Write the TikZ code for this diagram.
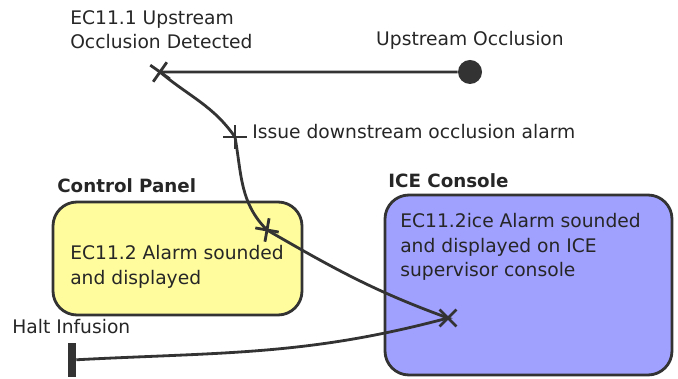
\documentclass[tikz,border=0pt]{standalone}
\usepackage{fontspec}
\setmainfont{DejaVu Sans}
\usetikzlibrary{shapes.misc}

\definecolor{panelyellow}{RGB}{255,252,158}
\definecolor{iceblue}{RGB}{160,160,255}
\definecolor{ucmgray}{RGB}{51,51,51}

\begin{document}
\begin{tikzpicture}[
  ucmpath/.style={draw=ucmgray, line width=2pt},
  resp/.style={cross out, draw=ucmgray, line width=2pt, minimum size=0.35cm, inner sep=0pt},
  comp/.style={draw=ucmgray, line width=2pt, rounded corners=0.6cm},
  lbl/.style={font=\fontsize{13.3}{17.5}\selectfont, text=black!85, align=left, inner sep=0pt}
]
  \useasboundingbox (0,0) rectangle (16.95,9.475);

  % Components
  \draw[comp, fill=panelyellow] (1.325,1.6) rectangle (7.55,4.425);
  \draw[comp, fill=iceblue] (9.625,0.1) rectangle (16.8,4.6);
  \node[lbl, anchor=west, font={\fontsize{13}{17}\selectfont\bfseries}] (cplabel) at (1.425,4.825) {Control Panel};
  \node[lbl, anchor=west, font={\fontsize{13}{17}\selectfont\bfseries}] (icelabel) at (9.7,4.95) {ICE Console};
  \node[lbl, anchor=north west] (cptext) at (1.75,3.35) {EC11.2 Alarm sounded\\and displayed};
  \node[lbl, anchor=north west] (icetext) at (10.0,4.15) {EC11.2ice Alarm sounded\\and displayed on ICE\\supervisor console};

  % Path points
  \coordinate (r1) at (4.0,7.675);
  \coordinate (r2) at (5.875,6.05);
  \coordinate (r3) at (6.675,3.725);
  \coordinate (r4) at (11.2,1.525);

  % Start and end
  \node[circle, fill=ucmgray, minimum size=0.6cm, inner sep=0pt] (start) at (11.75,7.675) {};
  \node[rectangle, fill=ucmgray, minimum width=0.2cm, minimum height=0.85cm, inner sep=0pt] (haltbar) at (1.8,0.475) {};

  % The path
  \draw[ucmpath] (start) -- (r1)
    to[out=-40, in=125] (r2)
    to[out=-80, in=135] (r3)
    to[out=-30, in=160] (r4)
    to[out=195, in=3] (haltbar);

  % Responsibilities
  \node[resp, rotate=10] (r1x) at (r1) {};
  \node[resp, rotate=45] (r2x) at (r2) {};
  \node[resp, rotate=35] (r3x) at (r3) {};
  \node[resp, rotate=0] (r4x) at (r4) {};

  % Labels
  \node[lbl, anchor=north west] (r1label) at (1.75,9.225) {EC11.1 Upstream\\Occlusion Detected};
  \node[lbl] (startlabel) at (11.75,8.475) {Upstream Occlusion};
  \node[lbl, anchor=west] (r2label) at (6.3,6.175) {Issue downstream occlusion alarm};
  \node[lbl, anchor=west] (haltlabel) at (0.3,1.3) {Halt Infusion};
\end{tikzpicture}
\end{document}
